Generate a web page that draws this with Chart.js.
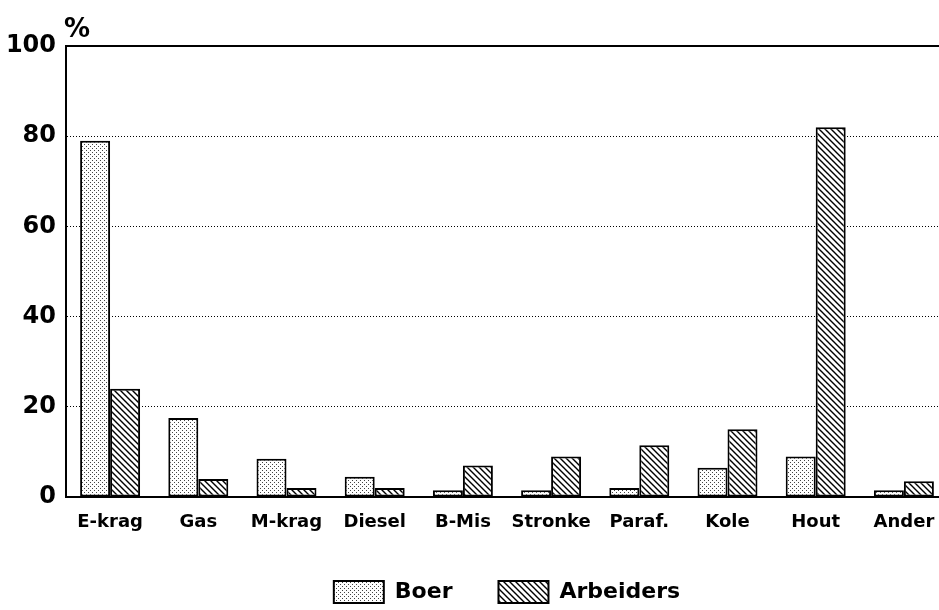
<!DOCTYPE html>
<html>
<head>
<meta charset="utf-8">
<script src="https://cdn.jsdelivr.net/npm/chart.js@4/dist/chart.umd.min.js"></script>
<style>
  html, body { margin: 0; padding: 0; overflow: hidden; background: #fff; }
</style>
</head>
<body>
<canvas id="myChart" width="950" height="610"></canvas>
<script>
// DATA
const categories = ["E-krag", "Gas", "M-krag", "Diesel", "B-Mis", "Stronke", "Paraf.", "Kole", "Hout", "Ander"];
const boer = [79, 17.5, 8.5, 4.5, 1.5, 1.5, 2, 6.5, 9, 1.5];
const arbeiders = [24, 4, 2, 2, 7, 9, 11.5, 15, 82, 3.5];
const yTicks = [0, 20, 40, 60, 80, 100];

const FONT = "'DejaVu Sans', sans-serif";

// FILL PATTERNS
function dotPattern() {
  const c = document.createElement("canvas");
  c.width = 4;
  c.height = 4;
  const g = c.getContext("2d");
  g.fillStyle = "#fff";
  g.fillRect(0, 0, 4, 4);
  g.fillStyle = "#444";
  g.fillRect(0, 0, 1, 1);
  g.fillRect(2, 2, 1, 1);
  return g.createPattern(c, "repeat");
}

function hatchPattern() {
  const s = 6;
  const c = document.createElement("canvas");
  c.width = s;
  c.height = s;
  const g = c.getContext("2d");
  g.fillStyle = "#fff";
  g.fillRect(0, 0, s, s);
  g.strokeStyle = "#000";
  g.lineWidth = 1.4;
  g.beginPath();
  g.moveTo(-1, -1); g.lineTo(s + 1, s + 1);
  g.moveTo(-1, s - 1); g.lineTo(1, s + 1);
  g.moveTo(s - 1, -1); g.lineTo(s + 1, 1);
  g.stroke();
  return g.createPattern(c, "repeat");
}

// "%" ABOVE THE Y AXIS
const percentLabel = {
  id: "percentLabel",
  afterDraw(chart) {
    const ctx = chart.ctx;
    ctx.save();
    ctx.fillStyle = "#000";
    ctx.font = "bold 26px " + FONT;
    ctx.textAlign = "left";
    ctx.textBaseline = "alphabetic";
    ctx.fillText("%", chart.chartArea.left - 2, 37);
    ctx.restore();
  },
};

const ctx = document.getElementById("myChart").getContext("2d");

const myChart = new Chart(ctx, {
  type: "bar",
  data: {
    labels: categories,
    datasets: [
      {
        label: "Boer",
        data: boer,
        backgroundColor: dotPattern(),
        borderColor: "#000",
        borderWidth: 2,
        borderSkipped: false,
      },
      {
        label: "Arbeiders",
        data: arbeiders,
        backgroundColor: hatchPattern(),
        borderColor: "#000",
        borderWidth: 2,
        borderSkipped: false,
      },
    ],
  },
  options: {
    responsive: false,
    animation: false,
    categoryPercentage: 0.68,
    barPercentage: 1,
    layout: {
      padding: { top: 46, left: 0, right: 2, bottom: 0 },
    },
    plugins: {
      tooltip: { enabled: false },
      legend: {
        position: "bottom",
        fullSize: false,
        maxHeight: 75,
        labels: {
          boxWidth: 50,
          boxHeight: 22,
          padding: 46,
          color: "#000",
          font: { family: FONT, size: 22, weight: "bold" },
        },
      },
    },
    scales: {
      x: {
        afterFit: (axis) => {
          axis.height = 38;
        },
        grid: { display: false, drawTicks: false },
        border: { display: true, color: "#000", width: 2 },
        ticks: {
          color: "#000",
          padding: 15,
          maxRotation: 0,
          font: { family: FONT, size: 18, weight: "bold" },
        },
      },
      y: {
        min: 0,
        max: 100,
        afterBuildTicks: (axis) => {
          axis.ticks = yTicks.map((v) => ({ value: v }));
        },
        afterFit: (axis) => {
          axis.width = 66;
        },
        grid: {
          drawTicks: false,
          color: (c) => (c.tick && c.tick.value === 0 ? "rgba(0,0,0,0)" : "#000"),
          lineWidth: (c) => (c.tick && c.tick.value === 100 ? 2 : 1),
        },
        border: {
          display: true,
          color: "#000",
          width: 2,
          dash: (c) => (c.tick && c.tick.value === 100 ? [] : [1, 2]),
        },
        ticks: {
          color: "#000",
          padding: 10,
          font: { family: FONT, size: 24, weight: "bold" },
        },
      },
    },
  },
  plugins: [percentLabel],
});
</script>
</body>
</html>
